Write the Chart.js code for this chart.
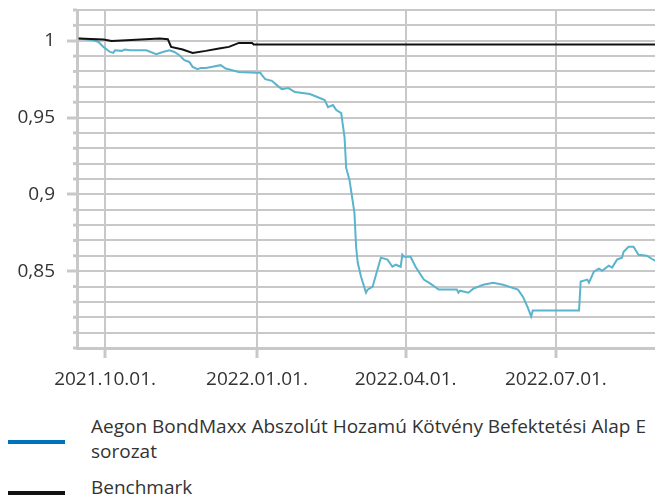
<!DOCTYPE html>
<html lang="hu">
<head>
  <meta charset="UTF-8">
  <title>Aegon BondMaxx</title>
  <script src="https://cdn.jsdelivr.net/npm/chart.js"></script>
  <style>
    body { margin:0; background:#fff; font-family:'Open Sans', Arial, sans-serif; color:#333; }
    .wrap { position:relative; width:655px; height:498px; overflow:hidden; }
    .chart-box { position:absolute; left:0; top:0; width:655px; height:400px; }
    .leg { position:absolute; left:0; font-size:19px; line-height:25px; color:#333; }
    .leg .swatch { position:absolute; left:8px; width:57px; height:4px; }
    .leg .txt { position:absolute; left:91px; width:564px; white-space:normal; }
  </style>
</head>
<body>
<div class="wrap">
  <div class="chart-box"><canvas id="c"></canvas></div>
  <div class="leg" style="top:414px;">
    <div class="swatch" style="top:26px;background:#0072bc;"></div>
    <div class="txt">Aegon BondMaxx Abszolút Hozamú Kötvény Befektetési Alap E sorozat</div>
  </div>
  <div class="leg" style="top:475px;">
    <div class="swatch" style="top:16px;background:#111;"></div>
    <div class="txt">Benchmark</div>
  </div>
</div>
<script>
  // values
  const fundDates = ['2021-09-15','2021-09-24','2021-09-27','2021-09-30','2021-10-04','2021-10-06','2021-10-07','2021-10-11','2021-10-13','2021-10-16','2021-10-22','2021-10-26','2021-11-01','2021-11-05','2021-11-09','2021-11-12','2021-11-15','2021-11-18','2021-11-21','2021-11-23','2021-11-26','2021-11-28','2021-12-01','2021-12-05','2021-12-10','2021-12-13','2021-12-17','2021-12-21','2022-01-01','2022-01-03','2022-01-04','2022-01-06','2022-01-10','2022-01-13','2022-01-16','2022-01-20','2022-01-24','2022-02-02','2022-02-08','2022-02-11','2022-02-13','2022-02-16','2022-02-18','2022-02-21','2022-02-22','2022-02-23','2022-02-24','2022-02-26','2022-03-01','2022-03-02','2022-03-03','2022-03-05','2022-03-08','2022-03-09','2022-03-12','2022-03-17','2022-03-21','2022-03-24','2022-03-26','2022-03-29','2022-03-30','2022-03-31','2022-04-04','2022-04-07','2022-04-12','2022-04-16','2022-04-21','2022-05-02','2022-05-03','2022-05-04','2022-05-09','2022-05-12','2022-05-18','2022-05-24','2022-05-30','2022-06-08','2022-06-11','2022-06-14','2022-06-16','2022-06-17','2022-07-15','2022-07-16','2022-07-20','2022-07-21','2022-07-24','2022-07-27','2022-07-29','2022-08-02','2022-08-04','2022-08-07','2022-08-10','2022-08-11','2022-08-14','2022-08-17','2022-08-20','2022-08-25','2022-08-28','2022-08-31'];
  const fundValues = [1.0014,1.0003,0.9992,0.9960,0.9927,0.9921,0.9938,0.9934,0.9943,0.9938,0.9938,0.9938,0.9912,0.9927,0.9938,0.9927,0.9906,0.9873,0.9862,0.9830,0.9815,0.9823,0.9823,0.9830,0.9841,0.9819,0.9808,0.9797,0.9791,0.9791,0.9776,0.9750,0.9739,0.9711,0.9685,0.9692,0.9666,0.9653,0.9627,0.9614,0.9568,0.9581,0.9549,0.9529,0.9451,0.9373,0.9172,0.9094,0.8880,0.8659,0.8555,0.8464,0.8360,0.8380,0.8399,0.8588,0.8575,0.8529,0.8542,0.8529,0.8607,0.8594,0.8594,0.8529,0.8445,0.8419,0.8380,0.8380,0.8360,0.8373,0.8360,0.8386,0.8412,0.8425,0.8412,0.8380,0.8334,0.8263,0.8205,0.8244,0.8244,0.8432,0.8445,0.8425,0.8497,0.8516,0.8503,0.8536,0.8523,0.8575,0.8588,0.8627,0.8659,0.8659,0.8607,0.8601,0.8581,0.8562];

  const benchDates = ['2021-09-15','2021-09-30','2021-10-05','2021-10-14','2021-11-03','2021-11-08','2021-11-10','2021-11-17','2021-11-23','2021-12-01','2021-12-09','2021-12-15','2021-12-21','2021-12-29','2021-12-30','2022-08-31'];
  const benchValues = [1.0014,1.0008,0.9999,1.0003,1.0014,1.0010,0.9960,0.9943,0.9921,0.9934,0.9949,0.9960,0.9986,0.9986,0.9975,0.9975];

  const xTickDates = ['2021-10-01','2022-01-01','2022-04-01','2022-07-01'];
  const xTickLabels = ['2021.10.01.','2022.01.01.','2022.04.01.','2022.07.01.'];
  const yTickValues = [0.85, 0.9, 0.95, 1];
  const yTickLabels = ['0,85','0,9','0,95','1'];

  const BASE = Date.UTC(2021, 9, 1);
  function dayOf(s){ const p = s.split('-'); return (Date.UTC(+p[0], +p[1]-1, +p[2]) - BASE) / 86400000; }
  function pts(dates, vals){ return dates.map((d,i)=>({x: dayOf(d), y: vals[i]})); }
  function isMajor(v){ return yTickValues.some(t => Math.abs(t - v) < 1e-6); }

  const GRID = '#c8c8c8';
  const xTickDays = xTickDates.map(dayOf);

  // short marks on the minor y ticks, left of the axis line
  const minorTicks = {
    id: 'minorTicks',
    afterDraw(chart){
      const y = chart.scales.y, ctx = chart.ctx;
      ctx.save();
      ctx.strokeStyle = GRID; ctx.lineWidth = 3;
      y.ticks.forEach(t => {
        if (isMajor(t.value)) return;
        const py = y.getPixelForValue(t.value);
        ctx.beginPath(); ctx.moveTo(y.right - 4, py); ctx.lineTo(y.right, py); ctx.stroke();
      });
      ctx.restore();
    }
  };

  Chart.defaults.font.family = "'Open Sans', Arial, sans-serif";
  Chart.defaults.font.size = 19;
  Chart.defaults.color = '#333';

  new Chart(document.getElementById('c').getContext('2d'), {
    type: 'line',
    data: {
      datasets: [
        { label:'Benchmark', data: pts(benchDates, benchValues), borderColor:'#111', borderWidth:2, pointRadius:0, tension:0 },
        { label:'Aegon BondMaxx Abszolút Hozamú Kötvény Befektetési Alap E sorozat', data: pts(fundDates, fundValues), borderColor:'#5ab4cc', borderWidth:2, pointRadius:0, tension:0 }
      ]
    },
    options: {
      responsive: true,
      maintainAspectRatio: false,
      animation: false,
      layout: { padding: { top: 10, right: 0, left: 0, bottom: 0 } },
      plugins: { legend: { display:false }, tooltip: { enabled:false } },
      scales: {
        x: {
          type: 'linear',
          min: dayOf('2021-09-14'),
          max: dayOf('2022-08-30'),
          afterBuildTicks: s => { s.ticks = xTickDays.map(v => ({ value: v })); },
          afterFit: s => { s.height = 52; s.paddingLeft = 0; s.paddingRight = 0; },
          ticks: {
            autoSkip: false, maxRotation: 0, padding: 10,
            callback: v => { const i = xTickDays.indexOf(v); return i >= 0 ? xTickLabels[i] : ''; }
          },
          grid: { color: GRID, lineWidth: 2, tickLength: 10, tickColor: GRID, tickWidth: 3 },
          border: { display: true, color: GRID, width: 3 }
        },
        y: {
          min: 0.80,
          max: 1.02,
          afterFit: s => { s.width = 77; s.paddingTop = 0; s.paddingBottom = 0; },
          ticks: {
            stepSize: 0.01, autoSkip: false, padding: 12,
            callback: v => { const i = yTickValues.findIndex(t => Math.abs(t - v) < 1e-6); return i >= 0 ? yTickLabels[i] : ''; }
          },
          grid: {
            color: GRID, lineWidth: 2, tickLength: 10, tickWidth: 3,
            tickColor: ctx => isMajor(ctx.tick.value) ? GRID : 'rgba(0,0,0,0)'
          },
          border: { display: true, color: GRID, width: 3 }
        }
      }
    },
    plugins: [minorTicks]
  });
</script>
</body>
</html>
